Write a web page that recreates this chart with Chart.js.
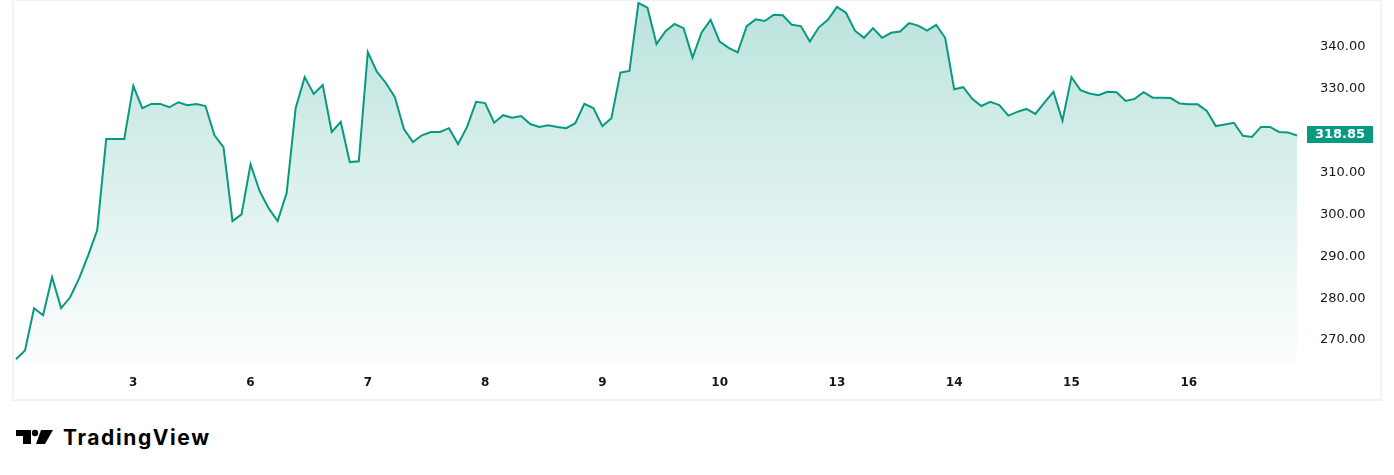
<!DOCTYPE html>
<html lang="en">
<head>
  <meta charset="UTF-8">
  <title>Price chart</title>
  <script src="https://cdn.jsdelivr.net/npm/chart.js"></script>
  <style>
    body { margin: 0; background: #fff; width: 1394px; height: 475px; position: relative; overflow: hidden; }
    #frame { position: absolute; left: 12px; top: -1px; width: 1366px; height: 398px; border: 2px solid #f0f2f5; }
    #chart { position: absolute; left: 0; top: 0; }
    #logo { position: absolute; left: 15px; top: 424px; height: 26px; display: flex; align-items: center; }
    #logo span { font-family: Inter, sans-serif; font-weight: 700; font-size: 21px; letter-spacing: 1.6px; color: #000; margin-left: 8px; }
  </style>
</head>
<body>
  <div id="frame"></div>
  <canvas id="chart" width="1394" height="400"></canvas>

  <!-- logo -->
  <div id="logo">
    <svg width="40" height="16" viewBox="0 0 40 16">
      <path d="M1 1 H16 V15 H8 V7 H1 Z" fill="#000"/>
      <circle cx="20" cy="4" r="3.2" fill="#000"/>
      <path d="M26 1 H38 L30 15 H21 Z" fill="#000"/>
    </svg>
    <span>TradingView</span>
  </div>

  <script>
    // trading days shown on the axis, 13 half-hour bars per day
    const days = ['2', '3', '6', '7', '8', '9', '10', '13', '14', '15', '16'];
    const barsPerDay = 13;

    // closing prices, one per bar
    const closes = [
      265.4, 267.5, 277.6, 275.9, 285.0, 277.6, 280.2, 284.7, 290.2, 296.2, 318.0, 318.0, 318.0,
      330.7, 325.4, 326.4, 326.4, 325.6, 326.8, 326.1, 326.4, 325.9, 318.9, 316.1, 298.4, 300.0,
      312.0, 305.6, 301.5, 298.4, 305.1, 325.4, 332.8, 328.8, 330.9, 319.7, 322.1, 312.5, 312.7,
      338.8, 334.1, 331.4, 328.0, 320.4, 317.3, 318.9, 319.7, 319.7, 320.6, 316.8, 320.9, 326.9,
      326.6, 321.9, 323.7, 323.1, 323.5, 321.6, 320.9, 321.3, 320.9, 320.6, 321.8, 326.4, 325.4,
      321.1, 323.0, 333.9, 334.3, 350.5, 349.4, 340.7, 343.8, 345.5, 344.5, 337.5, 343.5, 346.5,
      341.3, 339.8, 338.7, 345.0, 346.6, 346.2, 347.7, 347.6, 345.3, 345.0, 341.3, 344.7, 346.5,
      349.6, 348.2, 343.9, 342.2, 344.5, 342.2, 343.4, 343.7, 345.7, 345.1, 343.9, 345.3, 342.2,
      329.9, 330.4, 327.6, 325.9, 326.9, 326.1, 323.6, 324.5, 325.2, 324.0, 326.7, 329.3, 322.4,
      332.8, 329.7, 328.9, 328.5, 329.3, 329.2, 327.1, 327.6, 329.2, 327.9, 327.9, 327.8, 326.5,
      326.3, 326.3, 324.7, 321.1, 321.5, 321.9, 318.8, 318.5, 320.9, 320.9, 319.7, 319.6, 318.85
    ];

    // price axis ticks (320 sits under the last-price tag, so it is not shown)
    const yTicks = [270, 280, 290, 300, 310, 330, 340];

    const labels = [];
    days.forEach(d => { for (let i = 0; i < barsPerDay; i++) labels.push(d); });

    const green = '#089981';
    const lastPrice = closes[closes.length - 1];

    // last price tag on the price axis
    const priceTag = {
      id: 'priceTag',
      afterDraw(chart) {
        const ctx = chart.ctx;
        const y = Math.round(chart.scales.y.getPixelForValue(lastPrice));
        ctx.save();
        ctx.fillStyle = green;
        ctx.fillRect(1307, y - 10, 66, 17);
        ctx.fillStyle = '#fff';
        ctx.font = 'bold 13px "DejaVu Sans"';
        ctx.textAlign = 'center';
        ctx.textBaseline = 'middle';
        ctx.fillText(lastPrice.toFixed(2), 1340, y - 1);
        ctx.restore();
      }
    };

    new Chart(document.getElementById('chart'), {
      type: 'line',
      data: {
        labels: labels,
        datasets: [{
          data: closes,
          borderColor: green,
          borderWidth: 2,
          pointRadius: 0,
          tension: 0,
          fill: 'start',
          backgroundColor: function(c) {
            const area = c.chart.chartArea;
            if (!area) return 'rgba(8,153,129,0.2)';
            const g = c.chart.ctx.createLinearGradient(0, area.top, 0, area.bottom);
            g.addColorStop(0, 'rgba(8,153,129,0.28)');
            g.addColorStop(1, 'rgba(8,153,129,0.01)');
            return g;
          }
        }]
      },
      options: {
        responsive: false,
        animation: false,
        layout: { padding: { left: 16, right: 12, top: 0, bottom: 0 } },
        plugins: { legend: { display: false }, tooltip: { enabled: false } },
        scales: {
          x: {
            type: 'category',
            offset: false,
            grid: { display: false, drawTicks: false },
            border: { display: false },
            // only label the first bar of each day
            afterBuildTicks: s => { s.ticks = s.ticks.filter(t => t.value > 0 && t.value % barsPerDay === 0); },
            afterFit: s => { s.height = 37; s.paddingLeft = 0; s.paddingRight = 0; },
            ticks: {
              autoSkip: false,
              maxRotation: 0,
              padding: 13,
              color: '#131722',
              font: { family: 'DejaVu Sans', size: 12, weight: 'bold' }
            }
          },
          y: {
            position: 'right',
            min: 264.5,
            max: 351.23,
            grid: { display: false, drawTicks: false },
            border: { display: false },
            afterBuildTicks: s => { s.ticks = yTicks.map(v => ({ value: v })); },
            afterFit: s => { s.width = 85; s.paddingTop = 0; s.paddingBottom = 0; },
            ticks: {
              padding: 23,
              color: '#131722',
              font: { family: 'DejaVu Sans', size: 13 },
              callback: v => Number(v).toFixed(2)
            }
          }
        }
      },
      plugins: [priceTag]
    });
  </script>
</body>
</html>
